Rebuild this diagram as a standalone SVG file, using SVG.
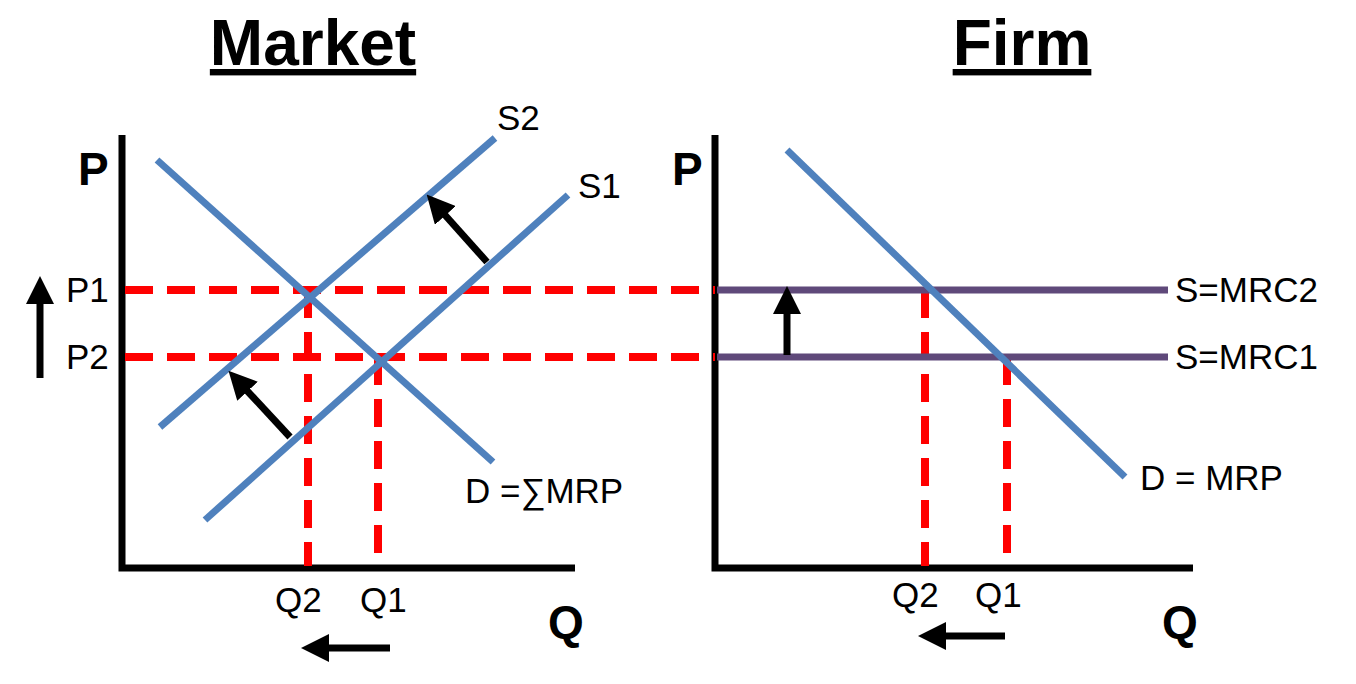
<svg xmlns="http://www.w3.org/2000/svg" width="1356" height="684" viewBox="0 0 1356 684">
<style>
.ax{stroke:#000;stroke-width:7;fill:none}
.bl{stroke:#4F81BD;stroke-width:7}
.pu{stroke:#5F497A;stroke-width:7}
.rd{stroke:#FF0000;stroke-width:8;stroke-dasharray:28,14}
.ar{stroke:#000;stroke-width:7;marker-end:url(#ah)}
text{font-family:"Liberation Sans",Arial,sans-serif;font-size:35px;fill:#000}
.t{font-size:64px;font-weight:bold;text-decoration:underline;text-anchor:middle}
.b{font-size:46px;font-weight:bold}
</style>
<defs><marker id="ah" markerWidth="4" markerHeight="4" refX="2" refY="2" orient="auto" markerUnits="strokeWidth"><path d="M0,0L4,2L0,4z" fill="#000"/></marker></defs>
<rect width="1356" height="684" fill="#fff"/>
<g id="market">
<text class="t" x="313" y="65">Market</text>
<text class="b" x="78" y="185">P</text>
<text class="b" x="548" y="638">Q</text>
<path class="ax" d="M122,135V568H575"/>
</g>
<g id="firm">
<text class="t" x="1022" y="65">Firm</text>
<text class="b" x="672" y="185">P</text>
<text class="b" x="1162" y="638">Q</text>
<path class="ax" d="M715,135V568H1193"/>
</g>
<g id="connectors">
<line class="rd" x1="125" y1="290" x2="715" y2="290"/>
<line class="rd" x1="125" y1="357" x2="715" y2="357"/>
<line class="rd" x1="308" y1="290" x2="308" y2="566"/>
<line class="rd" x1="378" y1="357" x2="378" y2="566"/>
<line class="rd" x1="925" y1="290" x2="925" y2="566"/>
<line class="rd" x1="1007" y1="357" x2="1007" y2="566"/>
<line class="pu" x1="717" y1="290" x2="1168" y2="290"/>
<line class="pu" x1="717" y1="357" x2="1168" y2="357"/>
<line class="bl" x1="157" y1="160" x2="493" y2="462"/>
<line class="bl" x1="160" y1="427" x2="495" y2="138"/>
<line class="bl" x1="205" y1="520" x2="568" y2="195"/>
<line class="bl" x1="787" y1="150" x2="1125" y2="477"/>
<line class="ar" x1="487" y1="262" x2="436" y2="205"/>
<line class="ar" x1="290" y1="437" x2="238" y2="381"/>
<line class="ar" x1="40" y1="378" x2="40" y2="290"/>
<line class="ar" x1="390" y1="648" x2="315" y2="648"/>
<line class="ar" x1="787" y1="355" x2="787" y2="300"/>
<line class="ar" x1="1005" y1="636" x2="932" y2="636"/>
</g>
<g id="labels">
<text x="497" y="130">S2</text>
<text x="578" y="198">S1</text>
<text x="465" y="503">D =∑MRP</text>
<text x="66" y="302">P1</text>
<text x="66" y="369">P2</text>
<text x="275" y="612">Q2</text>
<text x="360" y="612">Q1</text>
<text x="1175" y="302">S=MRC2</text>
<text x="1175" y="369">S=MRC1</text>
<text x="1140" y="490">D = MRP</text>
<text x="892" y="607">Q2</text>
<text x="975" y="607">Q1</text>
</g>
</svg>
